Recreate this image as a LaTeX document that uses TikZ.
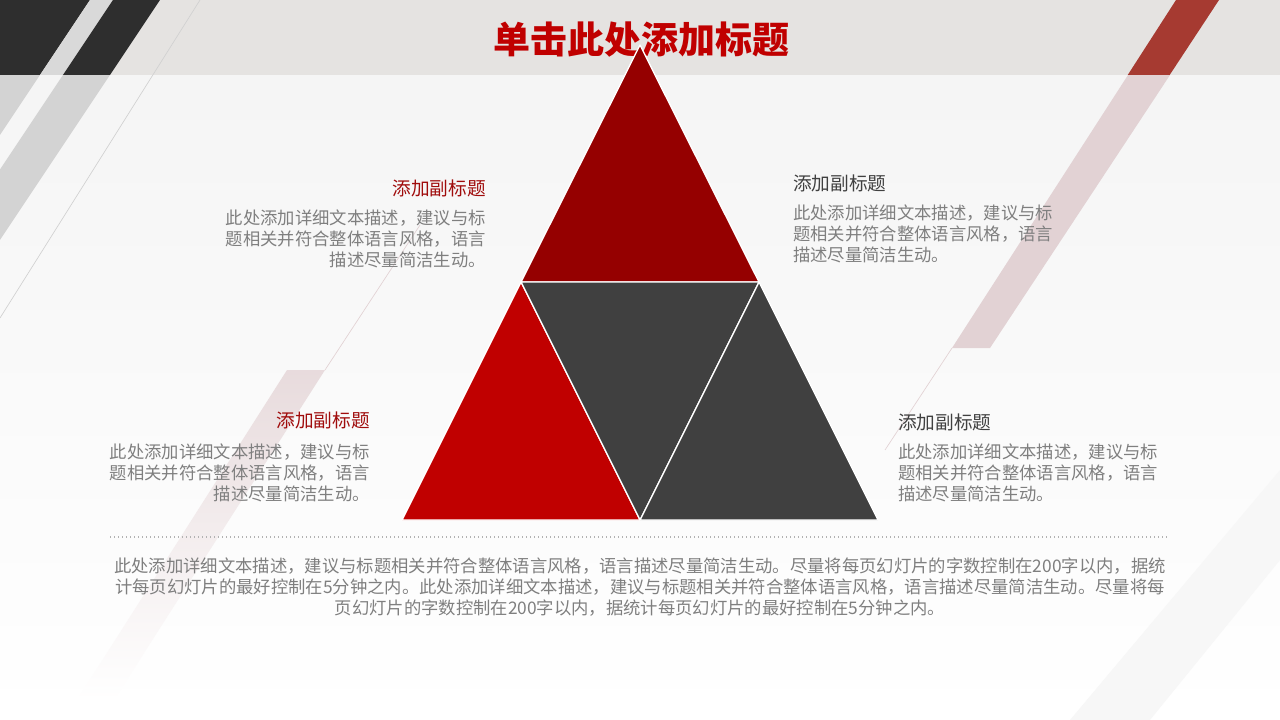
\documentclass[tikz,border=0pt]{standalone}
\usepackage{fontspec}
\usepackage{xcolor}
\usepackage{tikz}
\usetikzlibrary{positioning}
\newfontfamily\cjk{Noto Sans CJK SC}
\definecolor{titlered}{HTML}{C00000}
\definecolor{toptri}{HTML}{950000}
\definecolor{lefttri}{HTML}{C00000}
\definecolor{darktri}{HTML}{404040}
\definecolor{subred}{HTML}{A00C0C}
\definecolor{subgray}{HTML}{404040}
\definecolor{bodygray}{HTML}{7F7F7F}
\definecolor{bandgray}{HTML}{E5E3E1}
\definecolor{stripedark}{HTML}{2E2E2E}
\definecolor{stripegray}{HTML}{D3D3D3}
\definecolor{stripered}{HTML}{A63A31}
\definecolor{stripepink}{HTML}{E2D2D4}

\begin{document}
\begin{tikzpicture}[x=0.75pt,y=-0.75pt,
    subtitle/.style={font=\cjk\fontsize{14}{17}\selectfont, inner sep=0pt},
    body/.style={font=\cjk\fontsize{13}{15.75}\selectfont, text=bodygray, inner sep=0pt},
    piece/.style={draw=white, line width=1pt, line join=round}]
  \useasboundingbox (0,0) rectangle (1280,720);
  % background
  \fill[top color=white!96!black, bottom color=white] (0,75) rectangle (1280,720);
  \fill[left color=bandgray, middle color=white!93!black, right color=bandgray] (0,0) rectangle (1280,75);
  \fill[stripegray] (0,0) -- (90,0) -- (0,135) -- cycle;
  \fill[stripegray] (113,0) -- (160,0) -- (0,240) -- (0,169.5) -- cycle;
  \fill[stripepink] (1128,75) -- (1170,75) -- (990,348) -- (952,348) -- cycle;
  \shade[top color=stripepink!80, bottom color=white] (287,370) -- (325,370) -- (114,700) -- (77,700) -- cycle;
  \fill[black!3] (1280,470) -- (1280,560) -- (1150,720) -- (1070,720) -- cycle;
  \begin{scope}
    \clip (0,0) rectangle (1280,75);
    \fill[stripedark] (0,0) -- (90,0) -- (0,135) -- cycle;
    \fill[white!85!black] (90,0) -- (113,0) -- (0,169.5) -- (0,135) -- cycle;
    \fill[stripedark] (113,0) -- (160,0) -- (0,240) -- (0,169.5) -- cycle;
    \fill[stripered] (1176,0) -- (1219,0) -- (990,348) -- (952,348) -- cycle;
  \end{scope}
  \draw[line width=0.5pt, black!18] (200,0) -- (0,318);
  \draw[line width=0.5pt, stripepink] (952,348) -- (885,450);
  \draw[line width=0.5pt, stripepink] (325,370) -- (420,225);

  \node[font=\cjk\bfseries\fontsize{27.75}{33}\selectfont, text=titlered] (title) at (641,40) {单击此处添加标题};

  % pyramid
  \coordinate (apex) at (640,45);
  \coordinate (ml) at (521,282);
  \coordinate (mr) at (759,282);
  \coordinate (bl) at (402,520);
  \coordinate (bm) at (640,520);
  \coordinate (br) at (878,520);
  \filldraw[piece, fill=toptri] (apex) -- (mr) -- (ml) -- cycle;
  \filldraw[piece, fill=lefttri] (ml) -- (bm) -- (bl) -- cycle;
  \filldraw[piece, fill=darktri] (ml) -- (mr) -- (bm) -- cycle;
  \filldraw[piece, fill=darktri] (mr) -- (br) -- (bm) -- cycle;

  % labels
  \node[subtitle, text=subred, anchor=east] (ltsub) at (486,188) {添加副标题};
  \node[body, align=right, below=9.5pt of ltsub.south east, anchor=north east] (ltbody)
    {此处添加详细文本描述，建议与标\\题相关并符合整体语言风格，语言\\描述尽量简洁生动。};
  \node[subtitle, text=subgray, anchor=west] (rtsub) at (793,183) {添加副标题};
  \node[body, align=left, below=9.5pt of rtsub.south west, anchor=north west] (rtbody)
    {此处添加详细文本描述，建议与标\\题相关并符合整体语言风格，语言\\描述尽量简洁生动。};
  \node[subtitle, text=subred, anchor=east] (lbsub) at (370,420) {添加副标题};
  \node[body, align=right, below=11pt of lbsub.south east, anchor=north east] (lbbody)
    {此处添加详细文本描述，建议与标\\题相关并符合整体语言风格，语言\\描述尽量简洁生动。};
  \node[subtitle, text=subgray, anchor=west] (rbsub) at (898,422) {添加副标题};
  \node[body, align=left, below=9.5pt of rbsub.south west, anchor=north west] (rbbody)
    {此处添加详细文本描述，建议与标\\题相关并符合整体语言风格，语言\\描述尽量简洁生动。};

  % footer
  \coordinate (rulel) at (110,537);
  \coordinate (ruler) at (1168,537);
  \draw[dotted, line width=1pt, black!30] (rulel) -- (ruler);
  \node[body, align=center, anchor=north] (para) at (640,558)
    {此处添加详细文本描述，建议与标题相关并符合整体语言风格，语言描述尽量简洁生动。尽量将每页幻灯片的字数控制在200字以内，据统\\
     计每页幻灯片的最好控制在5分钟之内。此处添加详细文本描述，建议与标题相关并符合整体语言风格，语言描述尽量简洁生动。尽量将每\\
     页幻灯片的字数控制在200字以内，据统计每页幻灯片的最好控制在5分钟之内。};
\end{tikzpicture}
\end{document}
